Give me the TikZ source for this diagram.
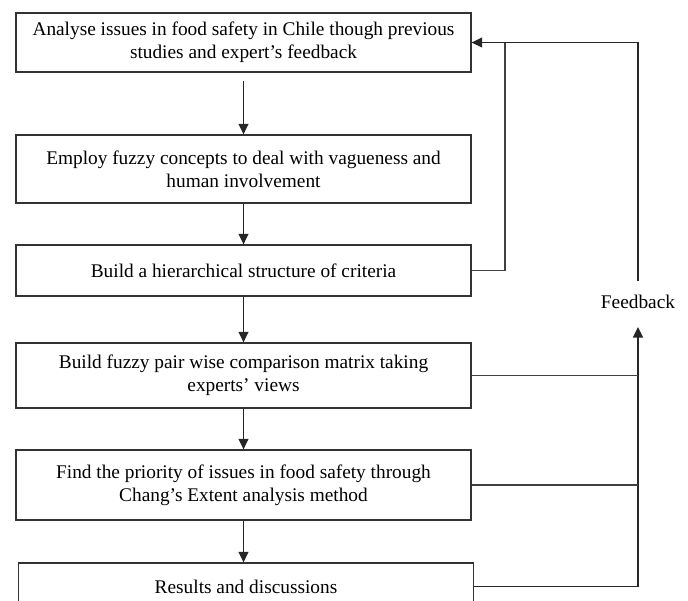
\documentclass[tikz,border=0pt]{standalone}
\usepackage{fontspec}
\setmainfont{Liberation Serif}
\usetikzlibrary{arrows.meta}
\tikzset{stepbox/.style={draw=black!80, line width=0.8pt, align=center,
    minimum width=9.1cm, inner sep=2pt, font=\fontsize{11}{13.2}\selectfont}}
\tikzset{flow/.style={draw=black!85, line width=0.7pt,
    -{Triangle[length=2.1mm,width=2mm]}}}
\tikzset{fbline/.style={draw=black!75, line width=0.6pt}}

\begin{document}
\begin{tikzpicture}[x=0.02cm, y=-0.02cm]
  \useasboundingbox (0,0) rectangle (688,600);

  \node[stepbox, minimum height=1.18cm] (b1) at (243.5,42.5)
    {Analyse issues in food safety in Chile though previous\\studies and expert's feedback};
  \node[stepbox, minimum height=1.36cm] (b2) at (243.5,169)
    {Employ fuzzy concepts to deal with vagueness and\\human involvement};
  \node[stepbox, minimum height=1.02cm] (b3) at (243.5,270.5)
    {Build a hierarchical structure of criteria};
  \node[stepbox, minimum height=1.30cm] (b4) at (243.5,375.5)
    {Build fuzzy pair wise comparison matrix taking\\experts' views};
  \node[stepbox, minimum height=1.40cm] (b5) at (243.5,485)
    {Find the priority of issues in food safety through\\Chang's Extent analysis method};
  \node[stepbox, minimum height=0.94cm] (b6) at (246,586.5)
    {Results and discussions};

  \node[font=\fontsize{11}{13.2}\selectfont] (fb) at (638,302) {Feedback};
  \coordinate (fbtop) at (638,281);
  \coordinate (fbbot) at (638,327);
  \coordinate (inner) at (505,43);

  \draw[flow] ([yshift=-5pt]b1.south) -- (b2.north);
  \draw[flow] (b2.south) -- (b3.north);
  \draw[flow] (b3.south) -- (b4.north);
  \draw[flow] (b4.south) -- (b5.north);
  \draw[flow] (b5.south) -- (b5.south |- b6.north);

  \draw[flow] (fbtop) |- (b1.east);
  \draw[fbline] (b3.east) -| (inner);
  \draw[flow] (b6.east) -| (fbbot);
  \draw[fbline] (b4.east) -- (b4.east -| fbbot);
  \draw[fbline] (b5.east) -- (b5.east -| fbbot);
\end{tikzpicture}
\end{document}
